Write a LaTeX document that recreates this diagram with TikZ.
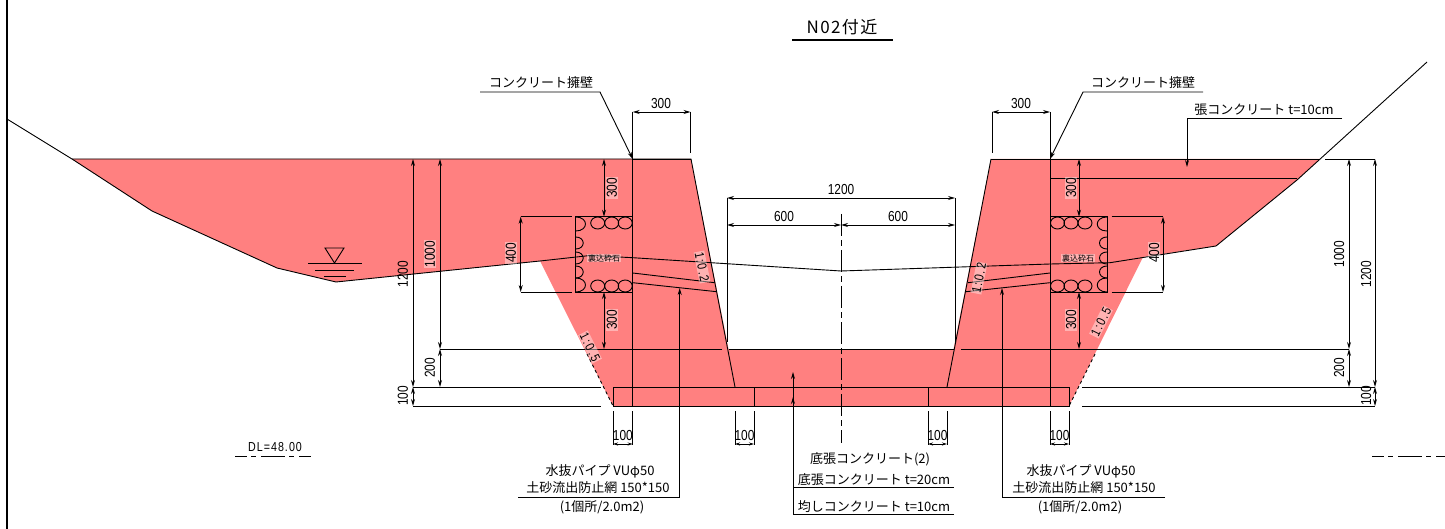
\documentclass[tikz,border=0pt]{standalone}
\usepackage{fontspec}
\usetikzlibrary{arrows.meta}
\setmainfont{Noto Sans CJK JP}
\newfontfamily\numfont[FakeStretch=0.82]{Liberation Sans}
\newfontfamily\slopefont[FakeStretch=0.82,LetterSpace=12]{Liberation Sans}
\newfontfamily\dlfont[FakeStretch=0.82,LetterSpace=8]{Liberation Sans}
\newfontfamily\titlefont[LetterSpace=8]{Noto Sans CJK JP}
\definecolor{fillred}{HTML}{FF8080}
\tikzset{
 line/.style={black,line width=0.9pt},
 dimline/.style={line,<->},
 leader/.style={line,->},
 centerline/.style={line,dash pattern=on 22pt off 4pt on 6pt off 4pt},
 dlline/.style={line,dash pattern=on 12pt off 4pt on 5pt off 5pt on 24pt off 4pt on 5pt off 5pt},
 dimlabel/.style={font=\numfont\fontsize{14.5}{14.5}\selectfont,inner sep=0pt},
 halolabel/.style={dimlabel,inner sep=0.8pt,fill=white,fill opacity=0.4,text opacity=1},
 slopelabel/.style={font=\slopefont\fontsize{13}{13}\selectfont,inner sep=0.8pt,fill=white,fill opacity=0.4,text opacity=1},
 notelabel/.style={font=\fontsize{13}{13}\selectfont,inner sep=0pt},
 gravellabel/.style={font=\fontsize{8}{8}\selectfont,inner sep=0.8pt,fill=white,fill opacity=0.4,text opacity=1},
 >={Stealth[length=7pt,width=4pt]}
}
\begin{document}
\begin{tikzpicture}[x=1pt,y=-1pt]
 \useasboundingbox (0,0) rectangle (1445,529);

 \fill[fillred] (72,159) -- (691,159) -- (728.5,349) -- (953.5,349) -- (991,159) -- (1320,159) -- (1297,180) -- (1216,246) -- (1143,257)
  -- (1069,406) -- (613,406) -- (540,261) -- (336,282) -- (277,268) -- (152,211) -- cycle;

 \draw[line,line width=2.2pt] (7,0) -- (7,529);
 \draw[line] (7,119) -- (72,159) -- (152,211) -- (277,268) -- (336,282) -- (540,261) -- (590,255.5) -- (632.7,257.7) -- (841,271) -- (1050,264) -- (1110,262.7) -- (1216,246) -- (1297,180) -- (1427,62);
 \draw[line] (72,159) -- (691,159) -- (735,387);
 \draw[line] (991,159) -- (947,387);
 \draw[line] (991,159) -- (1320,159);
 \draw[line] (728.5,349) -- (953.5,349);
 \draw[line] (1050,178.5) -- (1297,178.5);
 \draw[line] (613,387) rectangle (1069,406);
 \draw[line] (754,387) -- (754,406);
 \draw[line] (928,387) -- (928,406);
 \draw[line,dashed] (587,354) -- (613,406);
 \draw[line,dashed] (1095,354) -- (1069,406);
 \draw[centerline] (841,214) -- (841,443);

 \foreach \wallx/\side in {632.7/1,1050/-1}{
  \begin{scope}[shift={(\wallx,0)},xscale=\side]
   \draw[line] (0,112) -- (0,406);
   \draw[line] (-57,216.7) rectangle (0,292);
   \draw[line] (0,273) -- (82,282.7);
   \draw[line] (0,282.7) -- (84,291.7);
   \draw[line] (0,159) -- (58,159);
   \foreach \cx in {-7.5,-21,-35}{
    \draw[line] (\cx,223) ellipse (7 and 6);
    \draw[line] (\cx,286) ellipse (7 and 6);
   }
   \draw[line] (-57,217) .. controls (-44,217) and (-44,231) .. (-57,231);
   \foreach \cy in {243,258,272}{
    \draw[line] (-57,\cy-6) .. controls (-47,\cy-6) and (-47,\cy+6) .. (-57,\cy+6);
   }
   \draw[line] (-57,278) .. controls (-44,278) and (-44,292) .. (-57,292);
  \end{scope}
 }

 \draw[line] (325,248) -- (344,248) -- (334.5,263) -- cycle;
 \draw[line] (308,263.5) -- (362,263.5);
 \draw[line] (315,270) -- (354,270);
 \draw[line] (324,276) -- (346,276);

 \draw[line] (690.5,112) -- (690.5,153);
 \draw[dimline] (632.7,112) -- (690.5,112);
 \node[dimlabel] (topwidthL) at (661,103.5) {300};
 \draw[line] (992,112) -- (992,153);
 \draw[dimline] (992,112) -- (1050,112);
 \node[dimlabel] (topwidthR) at (1021,103.5) {300};

 \draw[line] (727,198) -- (727,342);
 \draw[line] (955,198) -- (955,342);
 \draw[dimline] (727,198) -- (955,198);
 \draw[dimline] (727,225) -- (841,225);
 \draw[dimline] (841,225) -- (955,225);
 \node[dimlabel] (widthAll) at (841,190) {1200};
 \node[dimlabel] (widthL) at (784,217) {600};
 \node[dimlabel] (widthR) at (898,217) {600};

 \draw[dimline] (604,159) -- (604,216.7);
 \draw[dimline] (604,292) -- (604,349);
 \draw[dimline] (1079,159) -- (1079,216.7);
 \draw[dimline] (1079,292) -- (1079,349);
 \node[halolabel,rotate=90] (coverLa) at (612,188) {300};
 \node[halolabel,rotate=90] (coverLb) at (612,320) {300};
 \node[halolabel,rotate=90] (coverRa) at (1071,188) {300};
 \node[halolabel,rotate=90] (coverRb) at (1071,320) {300};

 \draw[line] (520.7,216.7) -- (571.5,216.7);
 \draw[line] (520.7,292) -- (571.5,292);
 \draw[dimline] (520.7,216.7) -- (520.7,292);
 \node[halolabel,rotate=90] (gravelL) at (511,253) {400};
 \draw[line] (1111.5,216.7) -- (1163,216.7);
 \draw[line] (1111.5,292) -- (1163,292);
 \draw[dimline] (1163,216.7) -- (1163,292);
 \node[halolabel,rotate=90] (gravelR) at (1154,253) {400};

 \draw[line] (440,349) -- (721.5,349);
 \draw[line] (961,349) -- (1349,349);
 \draw[line] (413,387) -- (600.5,387);
 \draw[line] (413,406) -- (600.5,406);
 \draw[line] (1082,387) -- (1375,387);
 \draw[line] (1082,406) -- (1375,406);
 \draw[line] (1325,159) -- (1375,159);

 \draw[dimline] (413,159) -- (413,387);
 \draw[dimline] (440,159) -- (440,349);
 \draw[dimline] (440,349) -- (440,387);
 \draw[dimline] (413,387) -- (413,406);
 \draw[dimline] (1375,159) -- (1375,387);
 \draw[dimline] (1349,159) -- (1349,349);
 \draw[dimline] (1349,349) -- (1349,387);
 \draw[dimline] (1375,387) -- (1375,406);
 \node[dimlabel,rotate=90] (heightLa) at (403,274) {1200};
 \node[halolabel,rotate=90] (heightLb) at (430,254) {1000};
 \node[dimlabel,rotate=90] (heightLc) at (430,368) {200};
 \node[dimlabel,rotate=90] (heightLd) at (403,396) {100};
 \node[dimlabel,rotate=90] (heightRa) at (1366,274) {1200};
 \node[dimlabel,rotate=90] (heightRb) at (1339,254) {1000};
 \node[dimlabel,rotate=90] (heightRc) at (1339,368) {200};
 \node[dimlabel,rotate=90] (heightRd) at (1366,396) {100};

 \foreach \xa/\xb/\tag in {613/632.7/a,735/754/b,928/947/c,1050/1069/d}{
  \draw[line] (\xa,411) -- (\xa,445);
  \draw[line] (\xb,411) -- (\xb,445);
  \draw[line,<->,>={Stealth[length=5pt,width=3pt]}] (\xa,444) -- (\xb,444);
  \node[dimlabel,inner xsep=-1pt] (step\tag) at ({(\xa+\xb)/2},436) {100};
 }

 \node[slopelabel,rotate=-78.8] (slopeLa) at (702,267) {1:0.2};
 \node[slopelabel,rotate=78.8] (slopeRa) at (979,278) {1:0.2};
 \node[slopelabel,rotate=-63.4] (slopeLb) at (590,347) {1:0.5};
 \node[slopelabel,rotate=63.4] (slopeRb) at (1101,322) {1:0.5};

 \node[gravellabel] (gravelnoteL) at (604,258) {裏込砕石};
 \node[gravellabel] (gravelnoteR) at (1078,258) {裏込砕石};

 \node[notelabel,font=\titlefont\fontsize{17}{17}\selectfont] (title) at (842,27.5) {N02付近};
 \draw[line,line width=1.2pt] (792,40) -- (893,40);

 \coordinate (wallLend) at (632.7,159);
 \coordinate (wallRend) at (1050,159);
 \coordinate (pipeLend) at (679.7,288);
 \coordinate (pipeRend) at (1002,288);
 \coordinate (baseA) at (793,372);
 \coordinate (baseB) at (793,397);
 \coordinate (pavedEnd) at (1187,167);

 \node[notelabel] (wallL) at (541,83) {コンクリート擁壁};
 \draw[leader] (480,92) -- (600,92) -- (wallLend);
 \node[notelabel] (wallR) at (1143,83) {コンクリート擁壁};
 \draw[leader] (1203,92) -- (1083,92) -- (wallRend);
 \node[notelabel] (paved) at (1264,110) {張コンクリート t=10cm};
 \draw[leader] (1342,118) -- (1187,118) -- (pavedEnd);

 \node[notelabel] (pipeLa) at (600,471) {水抜パイプ VUφ50};
 \node[notelabel] (pipeLb) at (598,488) {土砂流出防止網 150*150};
 \node[notelabel] (pipeLc) at (602,507) {(1個所/2.0m2)};
 \draw[leader] (518,497) -- (679.7,497) -- (pipeLend);
 \node[notelabel] (pipeRa) at (1081,471) {水抜パイプ VUφ50};
 \node[notelabel] (pipeRb) at (1084,488) {土砂流出防止網 150*150};
 \node[notelabel] (pipeRc) at (1080,507) {(1個所/2.0m2)};
 \draw[leader] (1165,497) -- (1002,497) -- (pipeRend);

 \node[notelabel] (baseTa) at (870,459) {底張コンクリート(2)};
 \node[notelabel] (baseTb) at (874,480) {底張コンクリート t=20cm};
 \node[notelabel] (baseTc) at (874,507) {均しコンクリート t=10cm};
 \draw[line] (793,487.7) -- (954,487.7);
 \draw[leader] (954,514) -- (793,514) -- (baseA);
 \draw[leader] (793,420) -- (baseB);

 \node[dimlabel,font=\dlfont\fontsize{13}{13}\selectfont] (dl) at (275,447) {DL=48.00};
 \draw[dlline] (235,456) -- (311,456);
 \draw[dlline] (1372,456) -- (1445,456);
\end{tikzpicture}
\end{document}
